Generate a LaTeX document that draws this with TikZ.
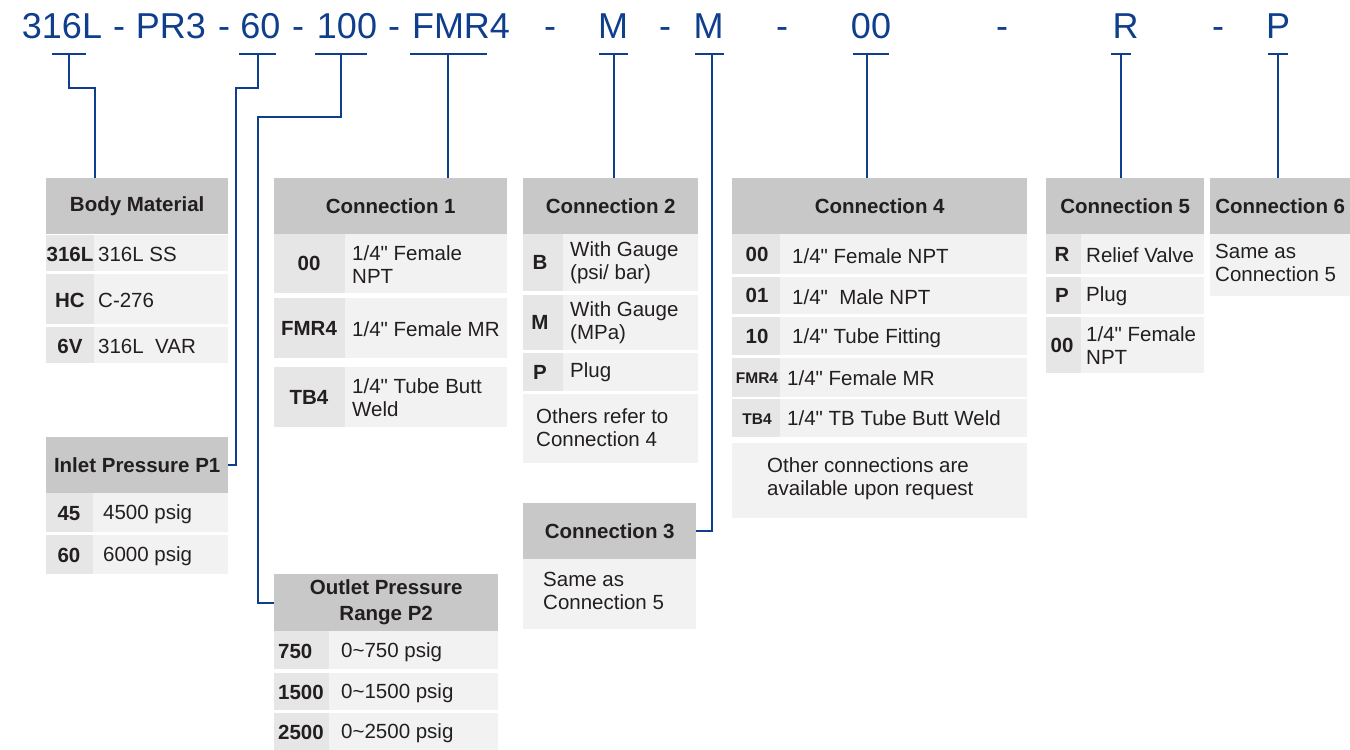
\documentclass[tikz,border=0pt]{standalone}
\usepackage{fontspec}
\setmainfont{Liberation Sans}[Ligatures=TeXOff]
\definecolor{partblue}{RGB}{14,62,140}
\definecolor{headgray}{RGB}{200,200,200}
\definecolor{keygray}{RGB}{230,230,230}
\definecolor{valgray}{RGB}{242,242,242}
\definecolor{inkgray}{RGB}{35,31,32}
\newcommand\tblfont{\fontsize{20.5}{23}\selectfont}

\begin{document}
\begin{tikzpicture}[x=1pt, y=-1pt,
    every node/.style = {inner sep=0pt, text=inkgray, font=\tblfont},
    part/.style = {anchor=base, text=partblue, font=\fontsize{36}{40}\selectfont},
    leader/.style = {draw=partblue, line width=1.8pt},
    hdbox/.style 2 args = {anchor=north west, fill=headgray, align=center,
      minimum width=#1, minimum height=#2,
      font=\fontsize{20.5}{26}\selectfont\bfseries},
    keycell/.style = {fill=keygray},
    valcell/.style = {fill=valgray},
    keytxt/.style = {font=\tblfont\bfseries},
    valtxt/.style = {anchor=west, align=left}]
  \useasboundingbox (0,0) rectangle (1350,750);

  % part number
  \node[part] (p316) at (62,38) {316L};
  \node[part] (d1) at (119,38) {-};
  \node[part] (ppr3) at (171,38) {PR3};
  \node[part] (d2) at (224,38) {-};
  \node[part] (p60) at (260.5,38) {60};
  \node[part] (d3) at (298,38) {-};
  \node[part] (p100) at (347,38) {100};
  \node[part] (d4) at (394,38) {-};
  \node[part] (pfmr) at (461,38) {FMR4};
  \node[part] (d5) at (550,38) {-};
  \node[part] (pm1) at (613,38) {M};
  \node[part] (d6) at (665,38) {-};
  \node[part] (pm2) at (708.5,38) {M};
  \node[part] (d7) at (782,38) {-};
  \node[part] (p00) at (871,38) {00};
  \node[part] (d8) at (1002,38) {-};
  \node[part] (pr) at (1125.5,38) {R};
  \node[part] (d9) at (1218,38) {-};
  \node[part] (pp) at (1278,38) {P};

  \foreach \n/\a/\b/\s in {316/52/86/69, 60/239/276/258, 100/315/367/341,
      fmr/410/487/448, m1/599/628/614, m2/695/724/712, 00/853/889/867,
      r/1111/1131/1121, p/1268/1288/1278} {
    \coordinate (t\n) at (\s,54);
    \draw[leader] (\a,54) -- (\b,54);
  }

  % body material
  \node[hdbox={182pt}{56pt}] (bm) at (46,178) {Body Material};
  \foreach \ya/\yb/\k/\v in {235/271/316L/316L SS, 274/324/HC/C-276,
      327/363/6V/{316L~~VAR}} {
    \fill[keycell] (46,\ya) rectangle (94,\yb);
    \fill[valcell] (94,\ya) rectangle (228,\yb);
    \node[keytxt] (bm-\k) at (70,{(\ya+\yb)/2+1}) {\k};
    \node[valtxt] (bm-\k-v) at (98,{(\ya+\yb)/2+1}) {\v};
  }

  % inlet pressure
  \node[hdbox={182pt}{56pt}] (ip) at (46,437) {Inlet Pressure P1};
  \foreach \ya/\yb/\k/\v in {493/532/45/4500 psig, 535/574/60/6000 psig} {
    \fill[keycell] (46,\ya) rectangle (93,\yb);
    \fill[valcell] (93,\ya) rectangle (228,\yb);
    \node[keytxt] (ip-\k) at (69,{(\ya+\yb)/2+1}) {\k};
    \node[valtxt] (ip-\k-v) at (103,{(\ya+\yb)/2+2}) {\v};
  }

  % outlet pressure
  \node[hdbox={224pt}{57pt}] (op) at (274,574) {Outlet Pressure\\Range P2};
  \foreach \ya/\yb/\k/\v in {631/669/750/{0\textasciitilde 750 psig},
      673/710/1500/{0\textasciitilde 1500 psig},
      713/750/2500/{0\textasciitilde 2500 psig}} {
    \fill[keycell] (274,\ya) rectangle (329,\yb);
    \fill[valcell] (329,\ya) rectangle (498,\yb);
    \node[keytxt, anchor=west] (op-\k) at (278,{(\ya+\yb)/2+1}) {\k};
    \node[valtxt] (op-\k-v) at (341,{(\ya+\yb)/2+2}) {\v};
  }

  % connection 1
  \node[hdbox={233pt}{56pt}] (c1) at (274,178) {Connection 1};
  \foreach \ya/\yb/\k/\v in {234/293/00/{1/4" Female\\NPT},
      298/358/FMR4/{1/4" Female MR}, 367/427/TB4/{1/4" Tube Butt\\Weld}} {
    \fill[keycell] (274,\ya) rectangle (345,\yb);
    \fill[valcell] (345,\ya) rectangle (507,\yb);
    \node[keytxt] (c1-\k) at (309,{(\ya+\yb)/2}) {\k};
    \node[valtxt] (c1-\k-v) at (352,{(\ya+\yb)/2+1}) {\v};
  }

  % connection 2
  \node[hdbox={175pt}{56pt}] (c2) at (523,178) {Connection 2};
  \foreach \ya/\yb/\k/\v in {234/291/B/{With Gauge\\(psi/ bar)},
      295/350/M/{With Gauge\\(MPa)}, 353/391/P/Plug} {
    \fill[keycell] (523,\ya) rectangle (563,\yb);
    \fill[valcell] (563,\ya) rectangle (698,\yb);
    \node[keytxt] (c2-\k) at (540,{(\ya+\yb)/2}) {\k};
    \node[valtxt] (c2-\k-v) at (570,{(\ya+\yb)/2}) {\v};
  }
  \fill[valcell] (523,394) rectangle (698,463);
  \node[valtxt] (c2-note) at (536,428) {Others refer to\\Connection 4};

  % connection 3
  \node[hdbox={173pt}{56pt}] (c3) at (523,503) {Connection 3};
  \fill[valcell] (523,559) rectangle (696,629);
  \node[valtxt] (c3-v) at (543,591) {Same as\\Connection 5};

  % connection 4
  \node[hdbox={295pt}{56pt}] (c4) at (732,178) {Connection 4};
  \foreach \ya/\yb/\k/\v in {234/274/00/{1/4" Female NPT},
      277/314/01/{1/4"~~Male NPT}, 317/355/10/{1/4" Tube Fitting}} {
    \fill[keycell] (732,\ya) rectangle (780,\yb);
    \fill[valcell] (780,\ya) rectangle (1027,\yb);
    \node[keytxt] (c4-\k) at (757,{(\ya+\yb)/2}) {\k};
    \node[valtxt] (c4-\k-v) at (792,{(\ya+\yb)/2+2}) {\v};
  }
  \fill[keycell] (732,358) rectangle (780,397);
  \fill[valcell] (780,358) rectangle (1027,397);
  \node[keytxt, font=\fontsize{15.5}{18}\selectfont\bfseries] (c4-FMR4) at (757,378) {FMR4};
  \node[valtxt] (c4-FMR4-v) at (787,378) {1/4" Female MR};
  \fill[keycell] (732,399) rectangle (780,437);
  \fill[valcell] (780,399) rectangle (1027,437);
  \node[keytxt, font=\fontsize{15.5}{18}\selectfont\bfseries] (c4-TB4) at (757,419) {TB4};
  \node[valtxt] (c4-TB4-v) at (787,418) {1/4" TB Tube Butt Weld};
  \fill[valcell] (732,443) rectangle (1027,518);
  \node[valtxt] (c4-note) at (767,479) {Other connections are\\available upon request};

  % connection 5
  \node[hdbox={158pt}{56pt}] (c5) at (1046,178) {Connection 5};
  \foreach \ya/\yb/\k/\v in {234/274/R/Relief Valve, 277/314/P/Plug,
      317/373/00/{1/4" Female\\NPT}} {
    \fill[keycell] (1046,\ya) rectangle (1081,\yb);
    \fill[valcell] (1081,\ya) rectangle (1204,\yb);
    \node[keytxt] (c5-\k) at (1062,{(\ya+\yb)/2}) {\k};
    \node[valtxt] (c5-\k-v) at (1086,{(\ya+\yb)/2+1}) {\v};
  }

  % connection 6
  \node[hdbox={140pt}{56pt}] (c6) at (1210,178) {Connection 6};
  \fill[valcell] (1210,234) rectangle (1350,296);
  \node[valtxt] (c6-v) at (1215,263) {Same as\\Connection 5};

  % leaders
  \draw[leader] (t316) -- ++(0,34) -| ([xshift=49pt]bm.north west);
  \draw[leader] (t60) -- ++(0,34) -- ++(-22,0) |- (ip.east);
  \draw[leader] (t100) -- ++(0,63) -- ++(-83,0) |- (op.west);
  \draw[leader] (tfmr) -- (tfmr |- c1.north);
  \draw[leader] (tm1) -- (tm1 |- c2.north);
  \draw[leader] (tm2) |- (c3.east);
  \draw[leader] (t00) -- (t00 |- c4.north);
  \draw[leader] (tr) -- (tr |- c5.north);
  \draw[leader] (tp) -- (tp |- c6.north);
\end{tikzpicture}
\end{document}
